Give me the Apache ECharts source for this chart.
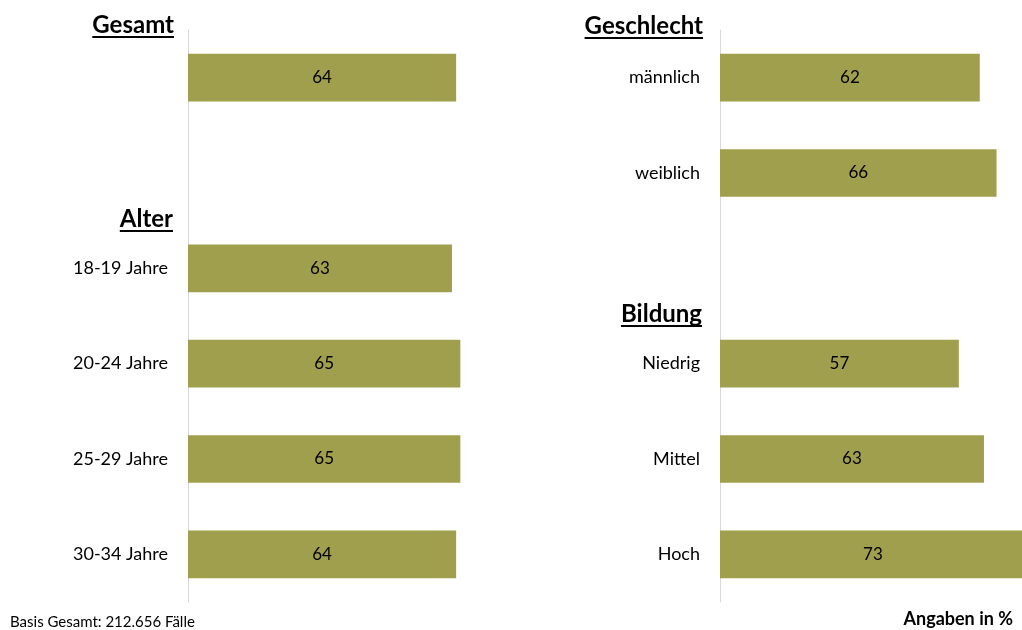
<!DOCTYPE html>
<html>
<head>
<meta charset="utf-8">
<script src="https://cdn.jsdelivr.net/npm/echarts@6/dist/echarts.min.js"></script>
<style>
  html, body { margin: 0; padding: 0; background: #fff; }
  #chart { width: 1022px; height: 630px; }
</style>
</head>
<body>
<div id="chart"></div>
<script>
// Left panel: Gesamt + Alter
const leftCategories = ['', '', '18-19 Jahre', '20-24 Jahre', '25-29 Jahre', '30-34 Jahre'];
const leftValues = [64, null, 63, 65, 65, 64];
// Right panel: Geschlecht + Bildung
const rightCategories = ['männlich', 'weiblich', '', 'Niedrig', 'Mittel', 'Hoch'];
const rightValues = [62, 66, null, 57, 63, 73];
// Section headings
const leftHeadings = ['Gesamt', 'Alter'];
const rightHeadings = ['Geschlecht', 'Bildung'];
const footnote = 'Basis Gesamt: 212.656 Fälle';
const unitNote = 'Angaben in %';

const FONT = 'Lato, "Open Sans", sans-serif';
const BAR = '#A09F4E';

const measureCtx = document.createElement('canvas').getContext('2d');
function textWidth(str, font) {
  measureCtx.font = font;
  return measureCtx.measureText(str).width;
}

// Underlined, right-aligned heading
function heading(text, right, cy) {
  const font = 'bold 24px ' + FONT;
  const w = textWidth(text, font);
  return {
    type: 'group',
    children: [
      { type: 'text', x: right, y: cy,
        style: { text: text, font: font, fill: '#000', align: 'right', verticalAlign: 'middle' } },
      { type: 'line', shape: { x1: right - w, y1: cy + 12, x2: right, y2: cy + 12 },
        style: { stroke: '#000', lineWidth: 2 } }
    ]
  };
}

function yAxisFor(idx, cats) {
  return {
    type: 'category', gridIndex: idx, data: cats, inverse: true,
    axisLine: { show: true, lineStyle: { color: '#d9d9d9', width: 1 } },
    axisTick: { show: false },
    axisLabel: { color: '#000', fontSize: 18, fontFamily: FONT, margin: 20 }
  };
}
function xAxisFor(idx) {
  return {
    type: 'value', gridIndex: idx, min: 0, max: 100, show: false,
    splitLine: { show: false }
  };
}
function seriesFor(idx, vals) {
  return {
    type: 'bar', xAxisIndex: idx, yAxisIndex: idx, data: vals,
    barCategoryGap: '50%',
    itemStyle: { color: BAR },
    label: { show: true, position: 'inside', color: '#000', fontSize: 17, fontFamily: FONT },
    silent: true, animation: false
  };
}

const chart = echarts.init(document.getElementById('chart'), null, { renderer: 'canvas' });
chart.setOption({
  backgroundColor: '#fff',
  animation: false,
  grid: [
    { left: 188, top: 30, width: 419, height: 572, outerBoundsMode: 'none' },
    { left: 720, top: 30, width: 419, height: 572, outerBoundsMode: 'none' }
  ],
  xAxis: [xAxisFor(0), xAxisFor(1)],
  yAxis: [yAxisFor(0, leftCategories), yAxisFor(1, rightCategories)],
  series: [seriesFor(0, leftValues), seriesFor(1, rightValues)],
  graphic: [
    heading(leftHeadings[0], 174, 25),
    heading(leftHeadings[1], 173, 219),
    heading(rightHeadings[0], 703, 26),
    heading(rightHeadings[1], 702, 314),
    { type: 'text', left: 10, top: 615,
      style: { text: footnote, font: '15px ' + FONT, fill: '#000' } },
    { type: 'text', right: 9, top: 610,
      style: { text: unitNote, font: 'bold 18px ' + FONT, fill: '#000' } }
  ]
});
</script>
</body>
</html>
